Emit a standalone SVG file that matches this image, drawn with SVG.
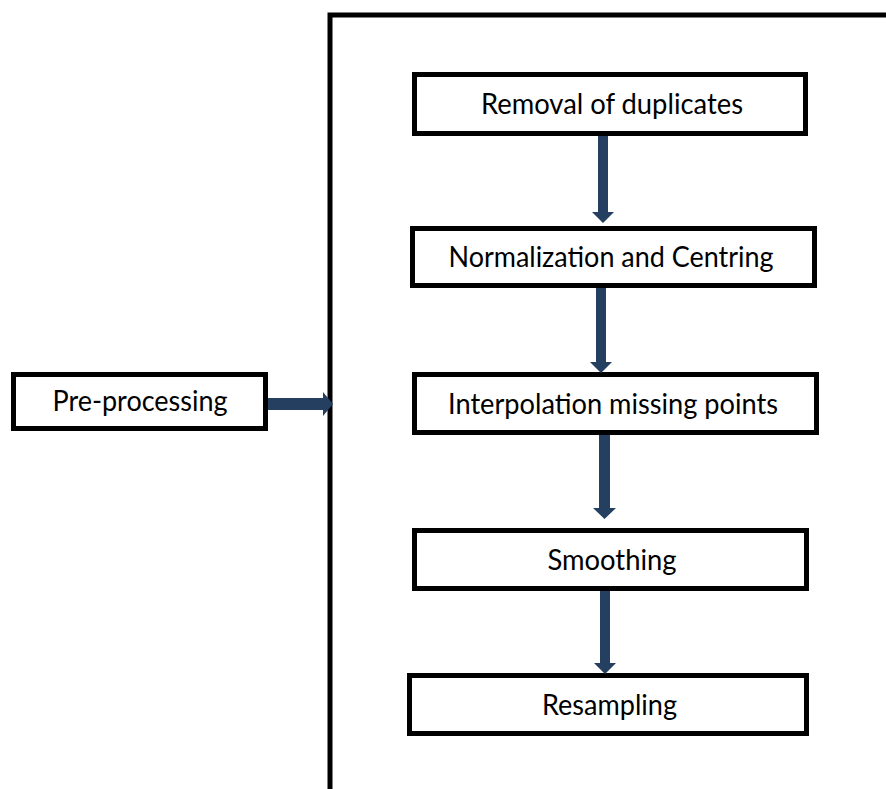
<svg xmlns="http://www.w3.org/2000/svg" width="886" height="789" viewBox="0 0 886 789">
  <style>
    .box { fill: #ffffff; stroke: #000000; stroke-width: 5; }
    .frame { fill: none; stroke: #000000; stroke-width: 5; }
    .label { font-family: Lato, "Open Sans", "Liberation Sans", sans-serif; font-size: 28px; fill: #000000; text-anchor: middle; }
    .arrow { fill: #243f60; }
  </style>
  <rect width="886" height="789" fill="#ffffff"/>

  <!-- outer bracket framing the pre-processing steps -->
  <g id="frame">
    <polyline class="frame" points="330,791 330,15 888,15"/>
  </g>

  <g id="preprocessing">
    <rect class="box" x="13.5" y="374.5" width="252" height="54"/>
    <text class="label" x="140" y="411" textLength="175" lengthAdjust="spacingAndGlyphs">Pre-processing</text>
  </g>

  <g id="removal">
    <rect class="box" x="414.5" y="74.5" width="391" height="59"/>
    <text class="label" x="612" y="114" textLength="262" lengthAdjust="spacingAndGlyphs">Removal of duplicates</text>
  </g>

  <g id="normalization">
    <rect class="box" x="412.5" y="228.5" width="402" height="57"/>
    <text class="label" x="611" y="267" textLength="325" lengthAdjust="spacingAndGlyphs">Normalization and Centring</text>
  </g>

  <g id="interpolation">
    <rect class="box" x="414.5" y="374.5" width="402" height="58"/>
    <text class="label" x="613" y="414" textLength="330" lengthAdjust="spacingAndGlyphs">Interpolation missing points</text>
  </g>

  <g id="smoothing">
    <rect class="box" x="414.5" y="530.5" width="392" height="58"/>
    <text class="label" x="612" y="570" textLength="129" lengthAdjust="spacingAndGlyphs">Smoothing</text>
  </g>

  <g id="resampling">
    <rect class="box" x="409.5" y="675.5" width="397" height="58"/>
    <text class="label" x="609.5" y="715" textLength="135" lengthAdjust="spacingAndGlyphs">Resampling</text>
  </g>

  <!-- block arrows between the steps -->
  <g id="connectors">
    <polygon class="arrow" points="268,398 323,398 323,392 333,404 323,416 323,410 268,410"/>
    <polygon class="arrow" points="598,136 608,136 608,212 614,212 603,223 592,212 598,212"/>
    <polygon class="arrow" points="596,288 606,288 606,362 612,362 601,373 590,362 596,362"/>
    <polygon class="arrow" points="599,435 610,435 610,508 616,508 604.5,519 593,508 599,508"/>
    <polygon class="arrow" points="600,591 610,591 610,663 616,663 605,674 594,663 600,663"/>
  </g>
</svg>
